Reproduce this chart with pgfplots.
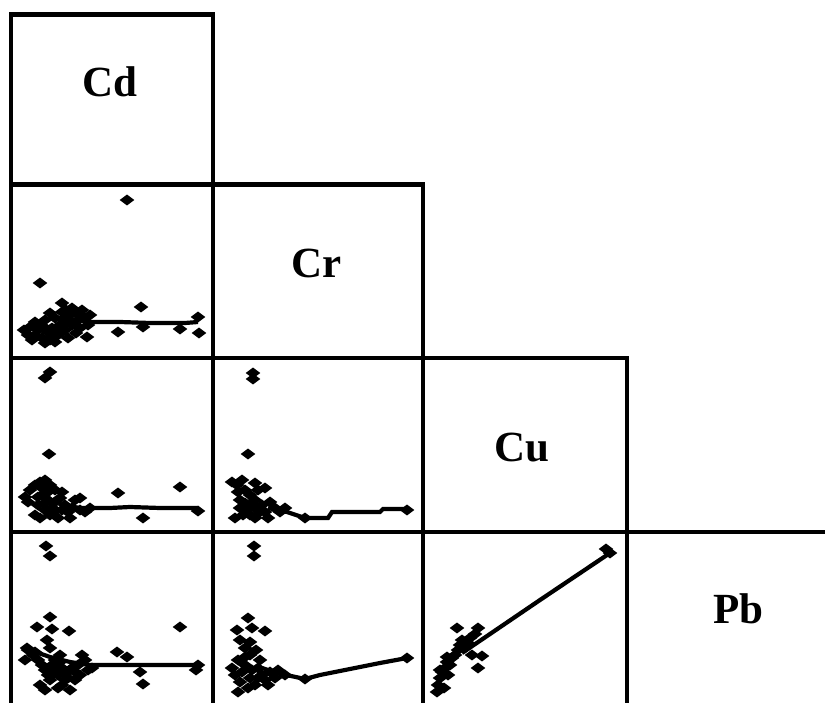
\documentclass[border=0pt]{standalone}
\usepackage{pgfplots}
\pgfplotsset{compat=1.18}
\usepackage{fontspec}
\setmainfont{Liberation Serif}
\pgfplotsset{
  panel/.style={scale only axis, anchor=south west, ticks=none, y dir=reverse,
    axis line style={line width=4.3pt}},
  pts/.style={only marks, mark=diamond*, mark size=5.6pt, mark options={rotate=90, fill=black, draw=black, line width=2pt}},
  fit/.style={black, line width=4.2pt, no marks},
}
\newcommand{\lab}[1]{\fontsize{43}{46}\selectfont\bfseries #1}
\begin{document}
\begin{tikzpicture}[x=1pt,y=1pt]
\useasboundingbox (0,0) rectangle (825,702);
\clip (0,0) rectangle (825,702);
% ---------- diagonal label panels ----------
\begin{axis}[panel, at={(11pt,{(702-184.5)*1pt})}, width=202pt, height=170pt,
  xmin=11, xmax=213, ymin=14.5, ymax=184.5]
\end{axis}
\begin{axis}[panel, at={(213pt,{(702-358)*1pt})}, width=210pt, height=173.5pt,
  xmin=213, xmax=423, ymin=184.5, ymax=358]
\end{axis}
\begin{axis}[panel, at={(423pt,{(702-532)*1pt})}, width=204pt, height=174pt,
  xmin=423, xmax=627, ymin=358, ymax=532]
\end{axis}
\begin{axis}[panel, at={(627pt,-15pt)}, width=215pt, height=185pt,
  xmin=627, xmax=842, ymin=532, ymax=717]
\end{axis}
% ---------- Cd vs Cr ----------
\begin{axis}[panel, at={(11pt,{(702-358)*1pt})}, width=202pt, height=173.5pt,
  xmin=11, xmax=213, ymin=184.5, ymax=358]
\addplot[pts] coordinates {
(127,200) (40,283) (141,307) (62,303) (87,337) (118,332) (143,327) (180,329)
(198,317) (199,333)
(24,330) (28,335) (30,327) (35,335) (35,322) (40,325) (42,338) (45,320)
(45,343) (48,332) (50,340) (52,328) (55,318) (58,335) (60,325) (62,312)
(65,330) (68,322) (70,315) (72,308) (75,312) (78,320) (80,328) (82,310)
(85,318) (88,325) (55,342) (68,338) (32,340) (50,313) (76,333) (90,315)
(38,330) (44,327) (52,335) (60,332) (64,320) (72,325) (80,315) (66,310)
};
\addplot[fit] coordinates {(60,318) (75,320) (88,322) (120,322) (150,323) (185,323) (198,322)};
\end{axis}
% ---------- Cd vs Cu ----------
\begin{axis}[panel, at={(11pt,{(702-532)*1pt})}, width=202pt, height=174pt,
  xmin=11, xmax=213, ymin=358, ymax=532]
\addplot[pts] coordinates {
(50,372) (45,378) (49,454) (180,487) (118,493) (80,498) (143,518) (198,511)
(25,497) (30,490) (35,485) (40,482) (45,480) (50,485) (55,490) (42,495)
(38,505) (45,510) (50,515) (55,502) (60,498) (65,505) (68,512) (72,508)
(75,500) (80,510) (85,512) (90,508) (48,500) (35,515) (58,518) (62,492)
(70,518) (40,518) (28,502) (55,510) (42,488) (48,492) (52,508) (62,510)
(45,503) (38,497)
};
\addplot[fit] coordinates {(62,505) (80,508) (110,508) (130,507) (160,508) (197,508)};
\end{axis}
% ---------- Cr vs Cu ----------
\begin{axis}[panel, at={(213pt,{(702-532)*1pt})}, width=210pt, height=174pt,
  xmin=213, xmax=423, ymin=358, ymax=532]
\addplot[pts] coordinates {
(253,373) (253,379) (248,454) (305,518) (407,510)
(232,482) (237,485) (242,480) (255,483) (265,488) (245,490) (250,495)
(240,500) (255,500) (262,505) (245,510) (250,515) (235,518) (255,518)
(265,512) (270,502) (275,508) (280,512) (285,508) (268,518) (240,508)
(258,490) (245,503) (260,512) (238,492) (250,505) (243,515) (256,509)
};
\addplot[fit] coordinates {(268,508) (287,512) (305,518) (328,518) (332,512) (380,512) (383,509) (407,509)};
\end{axis}
% ---------- Cd vs Pb ----------
\begin{axis}[panel, at={(11pt,-15pt)}, width=202pt, height=185pt,
  xmin=11, xmax=213, ymin=532, ymax=717]
\addplot[pts] coordinates {
(46,546) (50,556) (50,617) (180,627) (37,627) (52,629) (69,631)
(27,648) (25,660) (117,652) (127,657) (143,684) (140,672) (198,665) (196,670)
(28,650) (33,655) (38,660) (42,665) (45,670) (48,675) (50,680) (52,665)
(55,670) (58,675) (60,662) (62,668) (65,672) (68,678) (72,668) (75,672)
(78,665) (80,675) (85,660) (88,670) (45,690) (40,685) (50,648) (47,640)
(60,655) (70,690) (62,685) (55,660) (82,655) (92,668) (58,688) (35,652)
(52,675) (65,680) (70,670) (75,680)
};
\addplot[fit] coordinates {(30,650) (50,657) (70,662) (90,665) (120,665) (160,665) (198,665)};
\end{axis}
% ---------- Cr vs Pb ----------
\begin{axis}[panel, at={(213pt,-15pt)}, width=210pt, height=185pt,
  xmin=213, xmax=423, ymin=532, ymax=717]
\addplot[pts] coordinates {
(254,546) (254,556) (248,618) (237,630) (252,628) (265,631) (305,679) (407,658)
(240,640) (245,648) (250,655) (238,660) (245,665) (252,670) (258,668)
(262,675) (235,675) (240,682) (248,688) (238,692) (255,685) (265,680)
(270,672) (275,678) (260,660) (250,642) (242,672) (268,685) (256,650)
(285,675) (232,668) (278,670) (250,678) (258,678) (245,657)
};
\addplot[fit] coordinates {(262,668) (277,673) (305,679) (320,675) (350,669) (380,663) (407,658)};
\end{axis}
% ---------- Cu vs Pb ----------
\begin{axis}[panel, at={(423pt,-15pt)}, width=204pt, height=185pt,
  xmin=423, xmax=627, ymin=532, ymax=717]
\addplot[pts] coordinates {
(610,553) (606,549)
(437,692) (438,685) (440,678) (442,672) (445,668) (447,662) (450,665)
(452,658) (455,655) (458,650) (460,645) (462,640) (465,648) (468,643)
(470,638) (457,628) (478,628) (475,634) (482,656) (478,668) (472,655)
(448,675) (444,688) (447,657) (440,670)
};
\addplot[fit] coordinates {(462,653) (490,634) (540,600) (610,553)};
\end{axis}
% ---------- labels ----------
\node[anchor=base] at (109.5,{702-97}) {\lab{Cd}};
\node[anchor=base] at (316.5,{702-278}) {\lab{Cr}};
\node[anchor=base] at (521.5,{702-462}) {\lab{Cu}};
\node[anchor=base] at (738.5,{702-624}) {\lab{Pb}};
\end{tikzpicture}
\end{document}
